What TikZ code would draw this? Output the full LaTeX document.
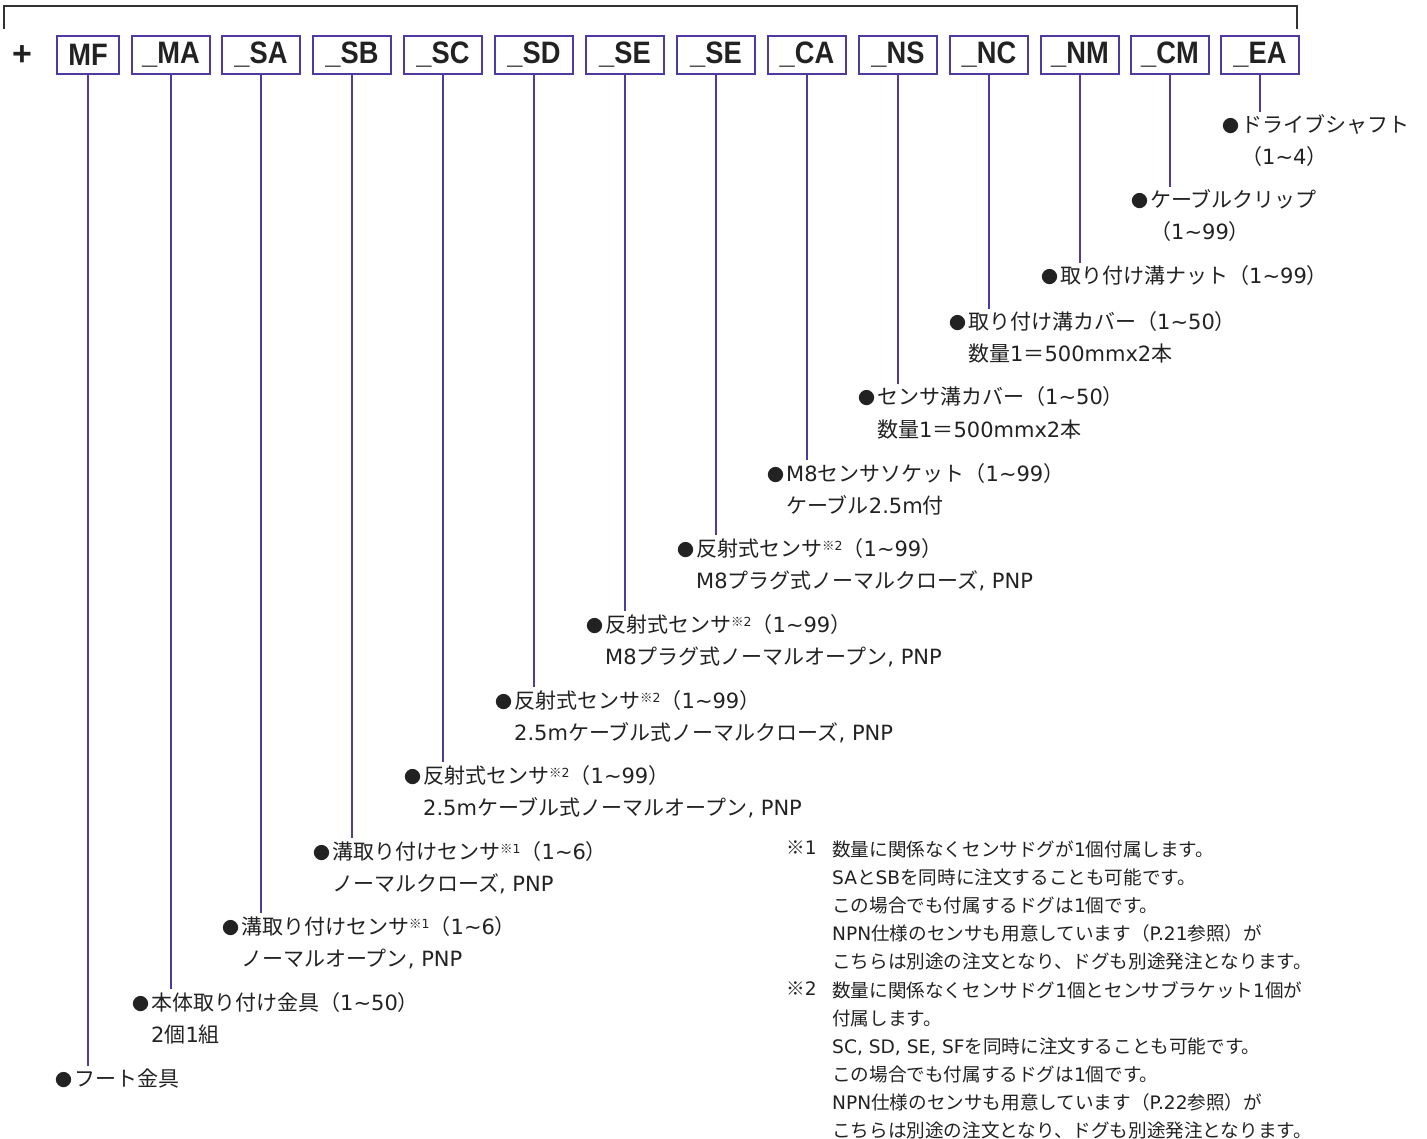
\documentclass[tikz,border=0pt]{standalone}
\usepackage{fontspec}
\usepackage{graphicx}
\setmainfont{Noto Sans CJK JP}
\newfontfamily\boxfont{Liberation Sans}
\newfontfamily\latfont{DejaVu Sans}
\definecolor{boxpurple}{RGB}{78,58,160}
\definecolor{txt}{RGB}{34,34,34}
\definecolor{brk}{RGB}{50,50,50}
\newcommand\bul{\makebox[19pt][l]{\fontsize{17}{17}\selectfont ●}}
\newcommand\sups[1]{\raisebox{6pt}{\fontsize{12.5}{12.5}\selectfont ※{\latfont #1}}}
\newcommand\la[1]{{\latfont #1}}
\newcommand\tl{\textasciitilde}
\tikzset{
  partbox/.style={draw=boxpurple, line width=2.4pt, minimum width=78pt, minimum height=38pt, inner sep=0pt,
    font=\boxfont\bfseries\fontsize{31}{31}\selectfont, text=txt},
  conn/.style={draw=boxpurple, line width=2pt},
  lab/.style={font=\fontsize{21}{21}\selectfont, text=txt, inner xsep=0pt, inner ysep=2.5pt, anchor=base west},
  note/.style={font=\fontsize{18.6}{28}\selectfont, text=txt, inner sep=0pt, anchor=north west, align=left},
  bracket/.style={draw=brk, line width=2pt}
}
\newcommand\bt[1]{\scalebox{0.88}[1]{#1}}
\begin{document}
\begin{tikzpicture}[x=1pt, y=-1pt]
\useasboundingbox (0,0) rectangle (1427,1139);
% bracket
\coordinate (k1) at (4,29);
\coordinate (k2) at (4,6);
\coordinate (k3) at (1297,6);
\coordinate (k4) at (1297,29);
\draw[bracket] (k1) -- (k2) -- (k3) -- (k4);
% plus
\node[font=\boxfont\bfseries\fontsize{34}{34}\selectfont, text=txt] (plus) at (22,56) {+};
% boxes
\node[partbox, minimum width=62pt] (bMF) at (88,55) {\bt{MF}};
\node[partbox] (bMA) at (171,55) {\bt{\_MA}};
\node[partbox] (bSA) at (261,55) {\bt{\_SA}};
\node[partbox] (bSB) at (352,55) {\bt{\_SB}};
\node[partbox] (bSC) at (443,55) {\bt{\_SC}};
\node[partbox] (bSD) at (534,55) {\bt{\_SD}};
\node[partbox] (bSE) at (625,55) {\bt{\_SE}};
\node[partbox] (bSF) at (716,55) {\bt{\_SE}};
\node[partbox] (bCA) at (807,55) {\bt{\_CA}};
\node[partbox] (bNS) at (898,55) {\bt{\_NS}};
\node[partbox] (bNC) at (989,55) {\bt{\_NC}};
\node[partbox] (bNM) at (1080,55) {\bt{\_NM}};
\node[partbox] (bCM) at (1170,55) {\bt{\_CM}};
\node[partbox] (bEA) at (1260,55) {\bt{\_EA}};
% labels
\node[lab] (lEA) at (1222,133) {\bul ドライブシャフト};
\node[lab] (lEA2) at (1241,165) {（\la{1\tl 4}）};
\node[lab] (lCM) at (1131,208) {\bul ケーブルクリップ};
\node[lab] (lCM2) at (1150,240) {（\la{1\tl 99}）};
\node[lab] (lNM) at (1041,284) {\bul 取り付け溝ナット（\la{1\tl 99}）};
\node[lab] (lNC) at (949,330) {\bul 取り付け溝カバー（\la{1\tl 50}）};
\node[lab] (lNC2) at (968,362) {数量\la{1}＝\la{500mmx2}本};
\node[lab] (lNS) at (858,405) {\bul センサ溝カバー（\la{1\tl 50}）};
\node[lab] (lNS2) at (877,437) {数量\la{1}＝\la{500mmx2}本};
\node[lab] (lCA) at (767,481) {\bul \la{M8}センサソケット（\la{1\tl 99}）};
\node[lab] (lCA2) at (786,513) {ケーブル\la{2.5m}付};
\node[lab] (lSF) at (677,556) {\bul 反射式センサ\sups{2}（\la{1\tl 99}）};
\node[lab] (lSF2) at (696,588) {\la{M8}プラグ式ノーマルクローズ\la{, PNP}};
\node[lab] (lSE) at (586,632) {\bul 反射式センサ\sups{2}（\la{1\tl 99}）};
\node[lab] (lSE2) at (605,664) {\la{M8}プラグ式ノーマルオープン\la{, PNP}};
\node[lab] (lSD) at (495,708) {\bul 反射式センサ\sups{2}（\la{1\tl 99}）};
\node[lab] (lSD2) at (514,740) {\la{2.5m}ケーブル式ノーマルクローズ\la{, PNP}};
\node[lab] (lSC) at (404,783) {\bul 反射式センサ\sups{2}（\la{1\tl 99}）};
\node[lab] (lSC2) at (423,815) {\la{2.5m}ケーブル式ノーマルオープン\la{, PNP}};
\node[lab] (lSB) at (313,859) {\bul 溝取り付けセンサ\sups{1}（\la{1\tl 6}）};
\node[lab] (lSB2) at (332,891) {ノーマルクローズ\la{, PNP}};
\node[lab] (lSA) at (222,934) {\bul 溝取り付けセンサ\sups{1}（\la{1\tl 6}）};
\node[lab] (lSA2) at (241,966) {ノーマルオープン\la{, PNP}};
\node[lab] (lMA) at (132,1010) {\bul 本体取り付け金具（\la{1\tl 50}）};
\node[lab] (lMA2) at (151,1042) {\la{2}個\la{1}組};
\node[lab] (lMF) at (55,1086) {\bul フート金具};
% connectors
\foreach \b in {MF,MA,SA,SB,SC,SD,SE,SF,CA,NS,NC,NM,CM,EA}
  \draw[conn] (b\b.south) -- (b\b.south |- l\b.north);
% notes
\node[note] (m1) at (786,841) {※\la{1}};
\node[note] (n1) at (832,841) {数量に関係なくセンサドグが\la{1}個付属します。\\\la{SA}と\la{SB}を同時に注文することも可能です。\\この場合でも付属するドグは\la{1}個です。\\\la{NPN}仕様のセンサも用意しています（\la{P.21}参照）が\\こちらは別途の注文となり、ドグも別途発注となります。};
\node[note] (m2) at (786,981) {※\la{2}};
\node[note] (n2) at (832,981) {数量に関係なくセンサドグ\la{1}個とセンサブラケット\la{1}個が\\付属します。\\\la{SC, SD, SE, SF}を同時に注文することも可能です。\\この場合でも付属するドグは\la{1}個です。\\\la{NPN}仕様のセンサも用意しています（\la{P.22}参照）が\\こちらは別途の注文となり、ドグも別途発注となります。};
\end{tikzpicture}
\end{document}
